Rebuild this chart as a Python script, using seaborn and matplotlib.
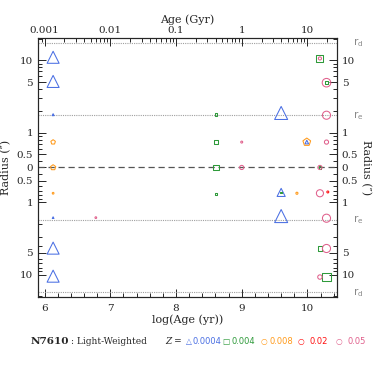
import numpy as np
import pandas as pd
import seaborn as sns
import matplotlib.pyplot as plt
from matplotlib.ticker import FixedLocator, MultipleLocator, NullFormatter
from matplotlib.transforms import blended_transform_factory

# --- data ---------------------------------------------------------------
# signed radius in arcsec: + = upper half, - = lower half, 0 = centre
log_age = [6.13, 6.13, 6.13, 6.13, 6.13, 6.13, 6.13, 6.13, 6.13,
           6.78,
           8.61, 8.61, 8.61, 8.61, 9.00, 9.00,
           10.19, 10.19, 10.29, 10.29, 9.60, 10.29, 9.99, 9.99, 10.29,
           10.19, 10.19,
           9.60, 9.60, 9.84, 10.19, 10.31, 9.60, 10.29, 10.19, 10.29,
           10.19, 10.29]
radius = [11.0, 5.1, 1.77, 0.74, 0.0, -0.75, -1.63, -4.3, -10.5,
          -1.63,
          1.77, 0.74, 0.0, -0.77, 0.74, 0.0,
          10.6, 10.6, 4.9, 4.9, 1.87, 1.74, 0.74, 0.74, 0.74,
          0.0, 0.0,
          -0.73, -0.73, -0.75, -0.75, -0.72, -1.55, -1.66, -4.35, -4.35,
          -10.8, -10.9]
metal = [0.0004, 0.0004, 0.0004, 0.008, 0.008, 0.008, 0.0004, 0.0004, 0.0004,
         0.05,
         0.004, 0.004, 0.004, 0.004, 0.05, 0.05,
         0.004, 0.05, 0.05, 0.004, 0.0004, 0.05, 0.008, 0.0004, 0.05,
         0.05, 0.004,
         0.0004, 0.004, 0.008, 0.05, 0.02, 0.0004, 0.05, 0.004, 0.05,
         0.05, 0.004]
weight = [75, 75, 2, 12, 16, 2, 1.5, 75, 75,
          1.5,
          3, 12, 18, 3, 2, 9,
          26, 5, 38, 5, 88, 34, 34, 7, 9,
          9, 3,
          34, 1, 3, 26, 2, 88, 34, 9, 34,
          10, 34]

z_levels = [0.0004, 0.004, 0.008, 0.02, 0.05]
z_labels = ["0.0004", "0.004", "0.008", "0.02", "0.05"]
z_colors = ["#4a6fe3", "#2e9a3a", "#ff9a1a", "#ff1010", "#e0608c"]
z_markers = ["^", "s", "p", "o", "o"]

r_min = 0.33          # radius mapped onto the centre line
r_e = 1.73
r_d = 17.6

def to_u(r):
    r = np.asarray(r, dtype=float)
    mag = np.where(np.abs(r) > r_min, np.log10(np.maximum(np.abs(r), 1e-9) / r_min), 0.0)
    return np.sign(r) * mag

df = pd.DataFrame({"logage": log_age, "radius": radius, "Z": metal, "w": weight})
df["u"] = to_u(df["radius"])

# --- figure ---------------------------------------------------------------
sns.set_style("ticks")
plt.rcParams["font.family"] = ["DejaVu Serif", "DejaVu Sans"]
plt.rcParams["xtick.direction"] = "in"
plt.rcParams["ytick.direction"] = "in"

fig = plt.figure(figsize=(3.74, 3.74), dpi=100)
ax = fig.add_axes([0.1016, 0.206, 0.7995, 0.6925])

umax = 1.79
ax.set_xlim(5.9, 10.45)
ax.set_ylim(-umax, umax)

ax.axhline(0, color="#555555", lw=0.9, ls=(0, (5, 3)), zorder=1)
for rr in [r_e, r_d]:
    for sgn in [1, -1]:
        ax.axhline(to_u(sgn * rr), color="#a0a0a0", lw=0.8, ls=(0, (1, 1)), zorder=1)

for z, col, mk in zip(z_levels, z_colors, z_markers):
    sub = df[df["Z"] == z]
    if sub.empty:
        continue
    sns.scatterplot(data=sub, x="logage", y="u", ax=ax, marker=mk, s=sub["w"].values,
                    color=col, facecolors="none", edgecolor=col, linewidth=0.75,
                    legend=False, zorder=3)

# y ticks (same on both sides)
maj_r = [-10, -5, -1, -0.5, 0, 0.5, 1, 5, 10]
ax.yaxis.set_major_locator(FixedLocator(to_u(maj_r)))
ax.set_yticklabels([("%g" % abs(r)) for r in maj_r])
mn = [0.4, 0.6, 0.7, 0.8, 0.9, 2, 3, 4, 6, 7, 8, 9, 20]
ax.yaxis.set_minor_locator(FixedLocator(np.concatenate([to_u(mn), to_u(-np.array(mn))])))
ax.xaxis.set_major_locator(FixedLocator([6, 7, 8, 9, 10]))
ax.xaxis.set_minor_locator(MultipleLocator(0.2))
ax.tick_params(which="both", left=True, right=True, labelleft=True, labelright=True,
               labelsize=7.5, width=0.7)
ax.tick_params(which="major", length=6)
ax.tick_params(which="minor", length=3)
ax.tick_params(axis="y", pad=3.5)
ax.tick_params(axis="x", pad=5)
ax.set_xlabel("log(Age (yr))", fontsize=8, labelpad=1)
ax.set_ylabel("Radius (″)", fontsize=8, labelpad=4)
ax.text(1.095, 0.5, "Radius (″)", transform=ax.transAxes, rotation=-90,
        ha="center", va="center", fontsize=8)
for sp in ax.spines.values():
    sp.set_linewidth(0.8)

tr = blended_transform_factory(ax.transAxes, ax.transData)
for lab, rr in [(r"$\mathrm{r_d}$", r_d), (r"$\mathrm{r_e}$", r_e)]:
    for sgn in [1, -1]:
        ax.text(1.07, to_u(sgn * rr), lab, transform=tr, color="#888888",
                fontsize=7.5, ha="center", va="center")

# top axis: age in Gyr
top = ax.twiny()
top.set_xlim(ax.get_xlim())
top.xaxis.set_major_locator(FixedLocator([6, 7, 8, 9, 10]))
top.set_xticklabels(["0.001", "0.01", "0.1", "1", "10"])
minor_top = [n + np.log10(k) for n in range(5, 11) for k in range(2, 10)]
minor_top = [m for m in minor_top if 5.9 < m < 10.45]
top.xaxis.set_minor_locator(FixedLocator(minor_top))
top.xaxis.set_minor_formatter(NullFormatter())
top.tick_params(which="both", labelsize=7.5, width=0.7, pad=2)
top.tick_params(which="major", length=6)
top.tick_params(which="minor", length=3)
top.set_xlabel("Age (Gyr)", fontsize=8, labelpad=2)

# bottom legend line
ly = 0.088
fig.text(31 / 374, ly, "N7610", fontsize=7.5, fontweight="bold", va="center")
fig.text(71 / 374, ly, ": Light-Weighted", fontsize=6.5, va="center")
fig.text(165 / 374, ly, "Z =", fontsize=6.5, va="center", style="italic")
sym = ["△", "□", "○", "○", "○"]
sym_x = [186, 222, 261, 298, 336]
txt_x = [193, 231, 270, 309, 347]
for s_, sx, tx, lab, col in zip(sym, sym_x, txt_x, z_labels, z_colors):
    fig.text(sx / 374, ly, s_, fontsize=5.5, color=col, va="center", family=["DejaVu Sans"])
    fig.text(tx / 374, ly, lab, fontsize=6, color=col, va="center", family=["DejaVu Sans"])

fig.savefig("out.png", dpi=100)
